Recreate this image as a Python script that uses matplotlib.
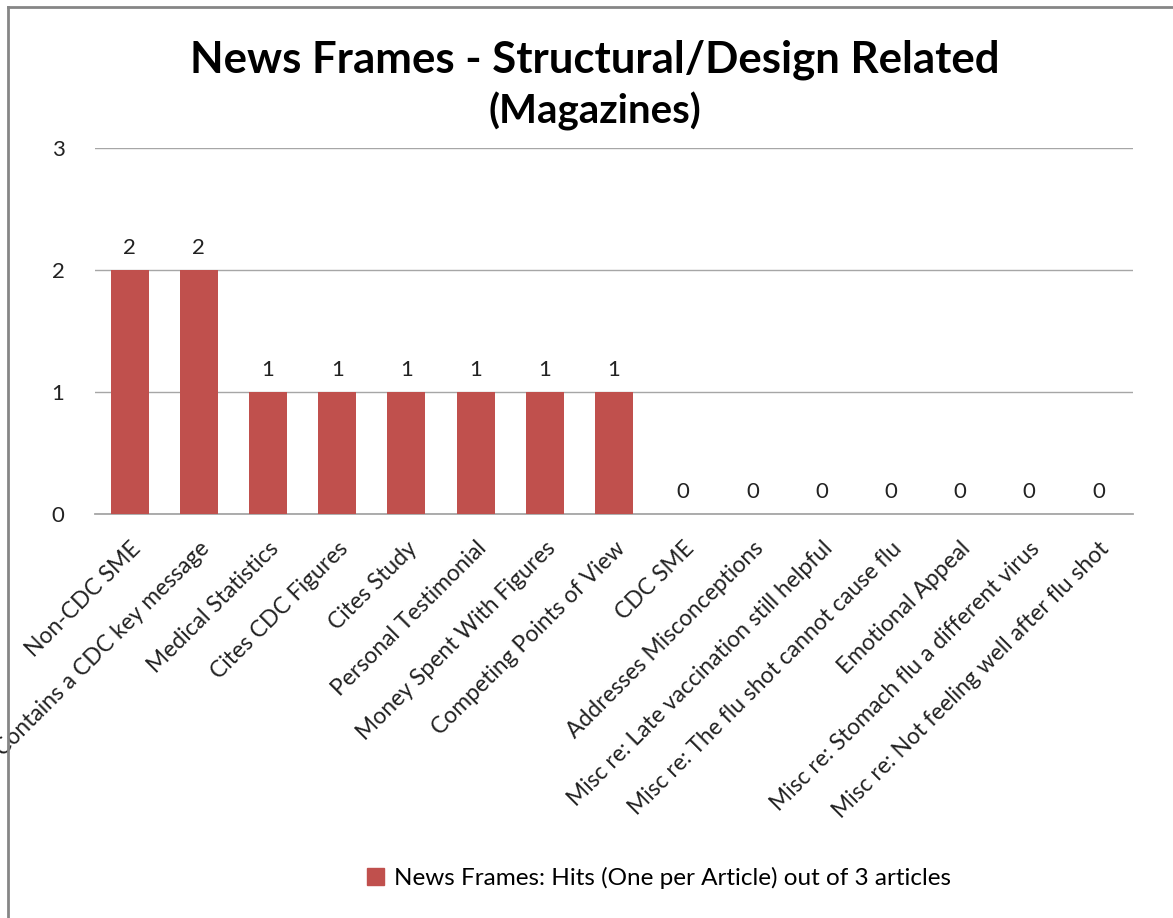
import matplotlib
matplotlib.use("Agg")
import matplotlib.pyplot as plt
from matplotlib.lines import Line2D
import numpy as np

plt.rcParams['font.family'] = ['Lato', 'DejaVu Sans']

categories = [
    "Non-CDC SME",
    "Contains a CDC key message",
    "Medical Statistics",
    "Cites CDC Figures",
    "Cites Study",
    "Personal Testimonial",
    "Money Spent With Figures",
    "Competing Points of View",
    "CDC SME",
    "Addresses Misconceptions",
    "Misc re: Late vaccination still helpful",
    "Misc re: The flu shot cannot cause flu",
    "Emotional Appeal",
    "Misc re: Stomach flu a different virus",
    "Misc re: Not feeling well after flu shot",
]
hits = [2, 2, 1, 1, 1, 1, 1, 1, 0, 0, 0, 0, 0, 0, 0]
series_name = "News Frames: Hits (One per Article) out of 3 articles"
y_ticks = [0, 1, 2, 3]

bar_color = "#C0504D"
grid_color = "#A6A6A6"
text_color = "#222222"

W, H = 1173, 918
fig = plt.figure(figsize=(W / 100, H / 100), dpi=100)

# plot area in pixel coordinates
left, right, top, bottom = 95, 1133, 148, 514
ax = fig.add_axes([left / W, 1 - bottom / H, (right - left) / W, (bottom - top) / H])

x = np.arange(len(categories))
ax.bar(x, hits, width=0.55, color=bar_color, zorder=3)
ax.set_xlim(-0.5, len(categories) - 0.5)
ax.set_ylim(0, 3)
ax.set_yticks(y_ticks)
ax.set_yticklabels([str(v) for v in y_ticks], fontsize=16, color=text_color)
ax.tick_params(axis='y', length=0, pad=22)
ax.tick_params(axis='x', length=0, pad=17)
ax.yaxis.grid(True, color=grid_color, linewidth=1.0, zorder=0)
for s in ["left", "right", "top"]:
    ax.spines[s].set_visible(False)
ax.spines["bottom"].set_color(grid_color)
ax.spines["bottom"].set_linewidth(1.3)

ax.set_xticks(x)
ax.set_xticklabels(categories, rotation=45, ha="right", va="top",
                   rotation_mode="anchor", fontsize=16.5, color=text_color)

for xi, v in zip(x, hits):
    ax.annotate(str(v), (xi, v), xytext=(0, 9), textcoords="offset points",
                ha="center", va="bottom", fontsize=16, color=text_color)

# titles
fig.text(595 / W, 1 - 60 / H, "News Frames - Structural/Design Related",
         ha="center", va="center", fontsize=31.5, fontweight="bold", color="black")
fig.text(595 / W, 1 - 111 / H, "(Magazines)",
         ha="center", va="center", fontsize=29, fontweight="bold", color="black")

# legend
handle = plt.Rectangle((0, 0), 1, 1, color=bar_color)
fig.legend([handle], [series_name], loc="center", bbox_to_anchor=(659 / W, 1 - 878 / H),
           frameon=False, fontsize=17.5, handlelength=0.7, handleheight=0.7,
           handletextpad=0.4)

# outer chart border (left and top)
fig.add_artist(Line2D([8 / W, 8 / W], [0, 1 - 7 / H], transform=fig.transFigure,
                      color="#868686", linewidth=2))
fig.add_artist(Line2D([8 / W, 1], [1 - 7 / H, 1 - 7 / H], transform=fig.transFigure,
                      color="#868686", linewidth=2))

fig.savefig("out.png", dpi=100, facecolor="white")
